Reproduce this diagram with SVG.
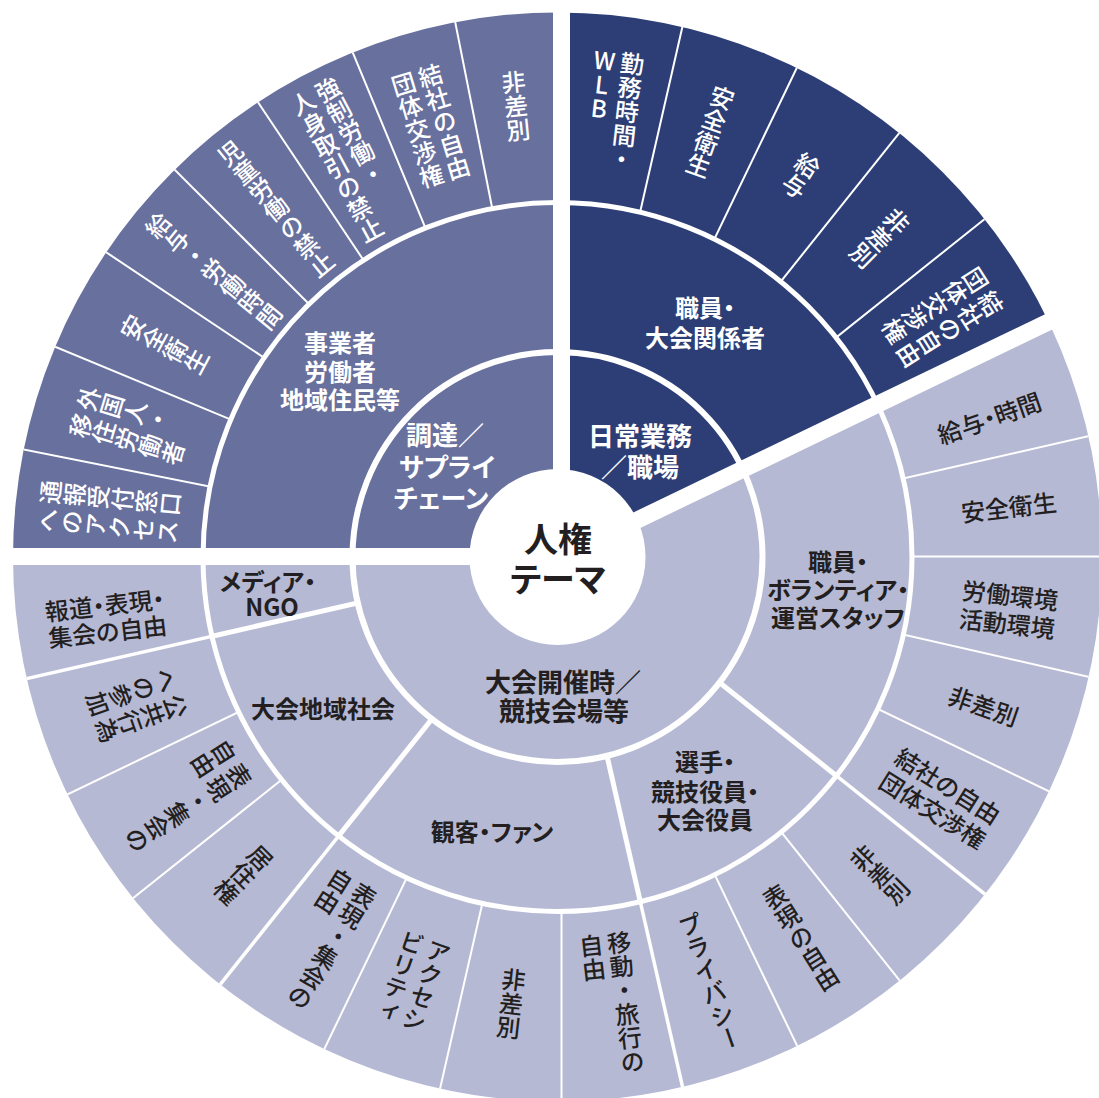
<svg xmlns="http://www.w3.org/2000/svg" width="1099" height="1098" viewBox="0 0 1099 1098">
<defs>
<style>
text{font-family:"Noto Sans CJK JP","Noto Sans",sans-serif}
.w{fill:#fff}
.d{fill:#231f20}
.t3{font-size:24px;font-weight:500}
.v{writing-mode:vertical-rl;text-anchor:start}
.up{text-orientation:upright}
.h{text-anchor:middle;dominant-baseline:central;font-feature-settings:"palt" 1}
.b{font-weight:700}
.l2{font-size:24px}
.l1{font-size:26px}
.c{font-size:34px}
.sep line{stroke:#fff}
</style>
<clipPath id="disc"><circle cx="557.5" cy="557" r="544.5"/></clipPath>
<clipPath id="r3"><path clip-rule="evenodd" d="M1102,557A544.5,544.5 0 1 0 13,557A544.5,544.5 0 1 0 1102,557ZM912,557A354.5,354.5 0 1 0 203,557A354.5,354.5 0 1 0 912,557Z"/></clipPath>
<clipPath id="r2"><path clip-rule="evenodd" d="M912,557A354.5,354.5 0 1 0 203,557A354.5,354.5 0 1 0 912,557ZM762.5,557A205,205 0 1 0 352.5,557A205,205 0 1 0 762.5,557Z"/></clipPath>
</defs>
<rect width="1099" height="1098" fill="#fff"/>
<g id="sectors" clip-path="url(#disc)">
<polygon id="s-supply" fill="#68709e" points="561.5,556.5 -10,556.5 -10,-10 561.5,-10"/>
<polygon id="s-work" fill="#2c3e75" points="561.5,556.5 561.5,-10 1120.1,-10 1120.1,287.49"/>
<polygon id="s-games" fill="#b6b9d4" points="561.5,556.5 1120.1,287.49 1120.1,1110 -10,1110 -10,556.5"/>
</g>
<g id="connectors" class="sep">
<g clip-path="url(#r3)" stroke-width="2">
<line x1="561.5" y1="556.5" x2="-46.59" y2="435.54"/>
<line x1="561.5" y1="556.5" x2="-11.31" y2="319.24"/>
<line x1="561.5" y1="556.5" x2="45.99" y2="212.05"/>
<line x1="561.5" y1="556.5" x2="123.09" y2="118.09"/>
<line x1="561.5" y1="556.5" x2="217.05" y2="40.99"/>
<line x1="561.5" y1="556.5" x2="324.24" y2="-16.31"/>
<line x1="561.5" y1="556.5" x2="440.54" y2="-51.59"/>
<line x1="561.5" y1="556.5" x2="699.46" y2="-47.96"/>
<line x1="561.5" y1="556.5" x2="830.51" y2="-2.10"/>
<line x1="561.5" y1="556.5" x2="948.06" y2="71.77"/>
<line x1="561.5" y1="556.5" x2="1046.23" y2="169.94"/>
<line x1="561.5" y1="556.5" x2="1165.96" y2="418.54"/>
<line x1="561.5" y1="556.5" x2="1181.5" y2="556.5"/>
<line x1="561.5" y1="556.5" x2="1165.96" y2="694.46"/>
<line x1="561.5" y1="556.5" x2="1120.10" y2="825.51"/>
<line x1="561.5" y1="556.5" x2="948.06" y2="1041.23"/>
<line x1="561.5" y1="556.5" x2="830.51" y2="1115.10"/>
<line x1="561.5" y1="556.5" x2="561.5" y2="1176.5"/>
<line x1="561.5" y1="556.5" x2="423.54" y2="1160.96"/>
<line x1="561.5" y1="556.5" x2="292.49" y2="1115.10"/>
<line x1="561.5" y1="556.5" x2="76.77" y2="943.06"/>
<line x1="561.5" y1="556.5" x2="2.90" y2="825.51"/>
</g>
<g clip-path="url(#r3)" stroke-width="3.5">
<line x1="561.5" y1="556.5" x2="1046.23" y2="943.06"/>
<line x1="561.5" y1="556.5" x2="699.46" y2="1160.96"/>
<line x1="561.5" y1="556.5" x2="174.94" y2="1041.23"/>
<line x1="561.5" y1="556.5" x2="-42.96" y2="694.46"/>
</g>
<g clip-path="url(#r2)" stroke-width="5">
<line x1="561.5" y1="556.5" x2="1046.23" y2="943.06"/>
<line x1="561.5" y1="556.5" x2="699.46" y2="1160.96"/>
<line x1="561.5" y1="556.5" x2="174.94" y2="1041.23"/>
<line x1="561.5" y1="556.5" x2="-42.96" y2="694.46"/>
</g>
<circle cx="557.5" cy="557" r="354.5" fill="none" stroke="#fff" stroke-width="5"/>
<circle cx="557.5" cy="557" r="205" fill="none" stroke="#fff" stroke-width="6"/>
<g stroke-width="17">
<line x1="561.5" y1="556.5" x2="-58.5" y2="556.5"/>
<line x1="561.5" y1="556.5" x2="561.5" y2="-63.5"/>
<line x1="561.5" y1="556.5" x2="1120.1" y2="287.49"/>
</g>
<circle cx="557.5" cy="557" r="88" fill="#fff"/>
</g>
<g id="center"><text class="d b c h" x="558" y="537">人権<tspan x="558" dy="40">テーマ</tspan></text></g>
<g id="supply"><text class="w b l1 h" x="445" y="433">調達／<tspan x="447" dy="32">サプライ</tspan><tspan x="441" dy="31">チェーン</tspan></text></g>
<g id="daily"><text class="w b l1 h" x="640" y="434">日常業務<tspan x="640" dy="31">／職場</tspan></text></g>
<g id="games"><text class="d b l1 h" x="563" y="680">大会開催時／<tspan x="564" dy="29">競技会場等</tspan></text></g>
<g id="business"><text class="w b l2 h" x="340" y="341">事業者<tspan x="340" dy="29">労働者</tspan><tspan x="340" dy="28">地域住民等</tspan></text></g>
<g id="staff"><text class="w b l2 h" x="705" y="306">職員・<tspan x="705" dy="30">大会関係者</tspan></text></g>
<g id="volunteers"><text class="d b l2 h" x="838" y="560">職員・<tspan x="838" dy="28">ボランティア・</tspan><tspan x="838" dy="28">運営スタッフ</tspan></text></g>
<g id="athletes"><text class="d b l2 h" x="705" y="760">選手・<tspan x="705" dy="30">競技役員・</tspan><tspan x="705" dy="28">大会役員</tspan></text></g>
<g id="spectators"><text class="d b l2 h" x="492" y="830">観客・ファン</text></g>
<g id="community"><text class="d b l2 h" x="323" y="707">大会地域社会</text></g>
<g id="media"><text class="d b l2 h" x="268" y="580">メディア・<tspan x="272" dy="25">NGO</tspan></text></g>
<g id="tl1" transform="translate(109,512) rotate(-84.375)"><text class="w t3 v" x="14" y="-72">通報受付窓口</text><text class="w t3 v" x="-14" y="-72">へのアクセス</text></g>
<g id="tl2" transform="translate(130.88,425.87) rotate(-73.125)"><text class="w t3 v" x="14" y="-60">外国人・</text><text class="w t3 v" x="-14" y="-60">移住労働者</text></g>
<g id="tl3" transform="translate(164.64,344.37) rotate(-61.875)"><text class="w t3 v" x="0" y="-48">安全衛生</text></g>
<g id="tl4" transform="translate(213.65,271.02) rotate(-50.625)"><text class="w t3 v" x="0" y="-84">給与・労働時間</text></g>
<g id="tl5" transform="translate(276.02,208.65) rotate(-39.375)"><text class="w t3 v" x="0" y="-84">児童労働の禁止</text></g>
<g id="tl6" transform="translate(349.37,159.64) rotate(-28.125)"><text class="w t3 v" x="14" y="-84">強制労働・</text><text class="w t3 v" x="-14" y="-84">人身取引の禁止</text></g>
<g id="tl7" transform="translate(430.87,125.88) rotate(-16.875)"><text class="w t3 v" x="14" y="-60">結社の自由</text><text class="w t3 v" x="-14" y="-60">団体交渉権</text></g>
<g id="tl8" transform="translate(516,106) rotate(-5.625)"><text class="w t3 v" x="0" y="-36">非差別</text></g>
<g id="tr1" transform="translate(613,110) rotate(6.429)"><text class="w t3 v" x="14" y="-60">勤務時間・</text><text class="w t3 v up" x="-14" y="-60">WLB</text></g>
<g id="tr2" transform="translate(710.13,131.75) rotate(19.286)"><text class="w t3 v" x="0" y="-48">安全衛生</text></g>
<g id="tr3" transform="translate(800.91,175.48) rotate(32.143)"><text class="w t3 v" x="0" y="-24">給与</text></g>
<g id="tr4" transform="translate(879.70,238.30) rotate(45)"><text class="w t3 v" x="0" y="-36">非差別</text></g>
<g id="tr5" transform="translate(942.52,317.09) rotate(57.857)"><text class="w t3 v" x="14" y="-60">結社の自由</text><text class="w t3 v" x="-14" y="-60">団体交渉権</text></g>
<g id="b1" transform="translate(989,417) rotate(-19.286)"><text class="d t3 h" x="0" y="0">給与・時間</text></g>
<g id="b2" transform="translate(1008.67,506.12) rotate(-6.429)"><text class="d t3 h" x="0" y="0">安全衛生</text></g>
<g id="b3" transform="translate(1008.67,608) rotate(6.429)"><text class="d t3 h" x="0" y="-14">労働環境<tspan x="0" dy="28">活動環境</tspan></text></g>
<g id="b4" transform="translate(984,705.13) rotate(19.286)"><text class="d t3 h" x="0" y="0">非差別</text></g>
<g id="b5" transform="translate(941,797) rotate(32.143)"><text class="d t3 h" x="0" y="-14">結社の自由<tspan x="0" dy="28">団体交渉権</tspan></text></g>
<g id="b6" transform="translate(879.70,874.70) rotate(-45)"><text class="d t3 v" x="0" y="-36">非差別</text></g>
<g id="b7" transform="translate(800.91,937.52) rotate(-32.143)"><text class="d t3 v" x="0" y="-60">表現の自由</text></g>
<g id="b8" transform="translate(710.13,981.25) rotate(-19.286)"><text class="d t3 v" x="0" y="-72">プライバシー</text></g>
<g id="b9" transform="translate(611.88,1003.67) rotate(-6.429)"><text class="d t3 v" x="14" y="-72">移動・旅行の</text><text class="d t3 v" x="-14" y="-72">自由</text></g>
<g id="b10" transform="translate(511.12,1003.67) rotate(6.429)"><text class="d t3 v" x="0" y="-36">非差別</text></g>
<g id="b11" transform="translate(412.87,981.25) rotate(19.286)"><text class="d t3 v" x="14" y="-48">アクセシ</text><text class="d t3 v" x="-14" y="-48">ビリティ</text></g>
<g id="b12" transform="translate(320,939) rotate(32.143)"><text class="d t3 v" x="14" y="-72">表現・集会の</text><text class="d t3 v" x="-14" y="-72">自由</text></g>
<g id="b13" transform="translate(243.30,874.70) rotate(45)"><text class="d t3 v" x="0" y="-36">居住権</text></g>
<g id="b14" transform="translate(180.48,795.91) rotate(57.857)"><text class="d t3 v" x="14" y="-72">表現・集会の</text><text class="d t3 v" x="-14" y="-72">自由</text></g>
<g id="b15" transform="translate(136.75,705.13) rotate(70.714)"><text class="d t3 v" x="14" y="-48">公共行為</text><text class="d t3 v" x="-14" y="-48">への参加</text></g>
<g id="b16" transform="translate(106,617) rotate(-6.429)"><text class="d t3 h" x="0" y="-13">報道・表現・<tspan x="0" dy="26">集会の自由</tspan></text></g>
</svg>
